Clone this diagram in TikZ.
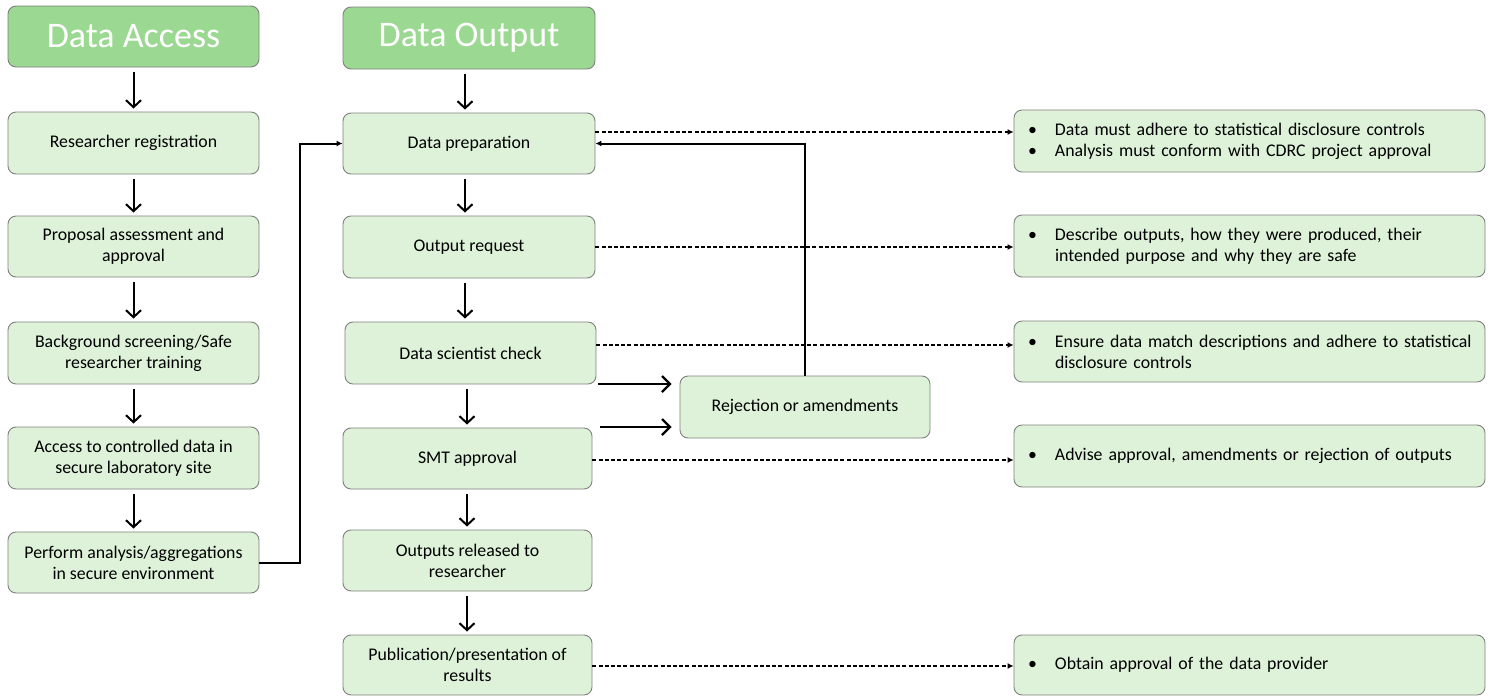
\documentclass[tikz,border=0pt]{standalone}
\usepackage{fontspec}
\setmainfont{Carlito}
\usetikzlibrary{arrows.meta,calc}
\definecolor{hdr}{RGB}{155,216,145}
\definecolor{lite}{RGB}{221,242,217}
\definecolor{bord}{RGB}{128,128,128}
\newcommand{\bul}[1]{\mbox{\hspace*{6pt}\makebox[27pt][l]{•}#1}}
\newcommand{\ind}[1]{\mbox{\hspace*{33pt}#1}}
\tikzset{
  box/.style={draw=bord, line width=0.9pt, fill=lite, rounded corners=8pt, align=center,
    font=\fontsize{17.8}{21}\selectfont, inner sep=2pt},
  hdrbox/.style={box, fill=hdr, text=white, font=\fontsize{36}{40}\selectfont},
  notebox/.style={box, align=left, text width=455pt, inner xsep=8pt, minimum width=471pt},
  flow/.style={line width=2pt, -{Straight Barb[length=7pt,width=15pt,line width=2pt]}, shorten >=3pt, shorten <=5pt},
  bigflow/.style={line width=2.2pt, -{Straight Barb[length=8pt,width=16pt,line width=2.2pt]}},
  loopline/.style={line width=2pt, -{Latex[length=6pt,width=6pt]}},
  dashflow/.style={line width=1.6pt, dash pattern=on 4pt off 2.2pt, -{Latex[length=6pt,width=6pt]}}
}
\begin{document}
\begin{tikzpicture}[x=1pt,y=-1pt]
\useasboundingbox (0,0) rectangle (1493,696);
% left column
\node[hdrbox, minimum width=251pt, minimum height=61pt] (da) at (133.5,36.5) {Data Access};
\node[box, minimum width=251pt, minimum height=62pt] (rr) at (133.5,143) {Researcher registration};
\node[box, minimum width=251pt, minimum height=61pt] (pa) at (133.5,246.5) {Proposal assessment and\\approval};
\node[box, minimum width=251pt, minimum height=62pt] (bs) at (133.5,353) {Background screening/Safe\\researcher training};
\node[box, minimum width=251pt, minimum height=62pt] (ac) at (133.5,458) {Access to controlled data in\\secure laboratory site};
\node[box, minimum width=251pt, minimum height=61pt] (pf) at (133.5,562.5) {Perform analysis/aggregations\\in secure environment};
% middle column
\node[hdrbox, minimum width=252pt, minimum height=62pt] (dout) at (469,38) {Data Output};
\node[box, minimum width=252pt, minimum height=61pt] (dp) at (469,143.5) {Data preparation};
\node[box, minimum width=252pt, minimum height=62pt] (orq) at (469,247) {Output request};
\node[box, minimum width=251pt, minimum height=62pt] (dsc) at (470.5,353) {Data scientist check};
\node[box, minimum width=249pt, minimum height=61pt] (smt) at (467.5,458.5) {SMT approval};
\node[box, minimum width=249pt, minimum height=61pt] (orel) at (467.5,560.5) {Outputs released to\\researcher};
\node[box, minimum width=249pt, minimum height=60pt] (pub) at (467.5,665) {Publication/presentation of\\results};
% rejection
\node[box, minimum width=250pt, minimum height=62pt] (rej) at (805,407) {Rejection or amendments};
% right notes
\node[notebox, minimum height=62pt] (n1) at (1249.5,141) {\bul{Data must adhere to statistical disclosure controls}\\\bul{Analysis must conform with CDRC project approval}};
\node[notebox, minimum height=62pt] (n2) at (1249.5,246) {\bul{Describe outputs, how they were produced, their}\\\ind{intended purpose and why they are safe}};
\node[notebox, minimum height=61pt] (n3) at (1249.5,351.5) {\bul{Ensure data match descriptions and adhere to statistical}\\\ind{disclosure controls}};
\node[notebox, minimum height=62pt] (n4) at (1249.5,456) {\bul{Advise approval, amendments or rejection of outputs}};
\node[notebox, minimum height=60pt] (n5) at (1249.5,665) {\bul{Obtain approval of the data provider}};
% left arrows
\draw[flow] (da) -- (rr);
\draw[flow] (rr) -- (pa);
\draw[flow] (pa) -- (bs);
\draw[flow] (bs) -- (ac);
\draw[flow] (ac) -- (pf);
% middle arrows
\coordinate (mx) at (465,0);
\coordinate (mx2) at (467,0);
\draw[flow] (mx |- dout.south) -- (mx |- dp.north);
\draw[flow] (mx |- dp.south) -- (mx |- orq.north);
\draw[flow] (mx |- orq.south) -- (mx |- dsc.north);
\draw[flow] (mx2 |- dsc.south) -- (mx2 |- smt.north);
\draw[flow] (mx2 |- smt.south) -- (mx2 |- orel.north);
\draw[flow] (mx2 |- orel.south) -- (mx2 |- pub.north);
% perform -> data prep
\draw[loopline] (pf.east) -- ++(41,0) |- (dp.west);
% to rejection
\coordinate (r1) at (598,384);
\coordinate (r2) at (600,427);
\draw[bigflow] (r1) -- ([xshift=-8pt]rej.west |- r1);
\draw[bigflow] (r2) -- ([xshift=-8pt]rej.west |- r2);
% rejection -> data prep
\draw[loopline] (rej.north) |- (dp.east);
% dashed
\draw[dashflow] ([yshift=11.5pt]dp.east) -- ([yshift=11.5pt]dp.east -| n1.west);
\draw[dashflow] (orq.east) -- (orq.east -| n2.west);
\draw[dashflow] ([yshift=8pt]dsc.east) -- ([yshift=8pt]dsc.east -| n3.west);
\draw[dashflow] ([yshift=-1.5pt]smt.east) -- ([yshift=-1.5pt]smt.east -| n4.west);
\draw[dashflow] ([yshift=-1pt]pub.east) -- ([yshift=-1pt]pub.east -| n5.west);
\end{tikzpicture}
\end{document}
